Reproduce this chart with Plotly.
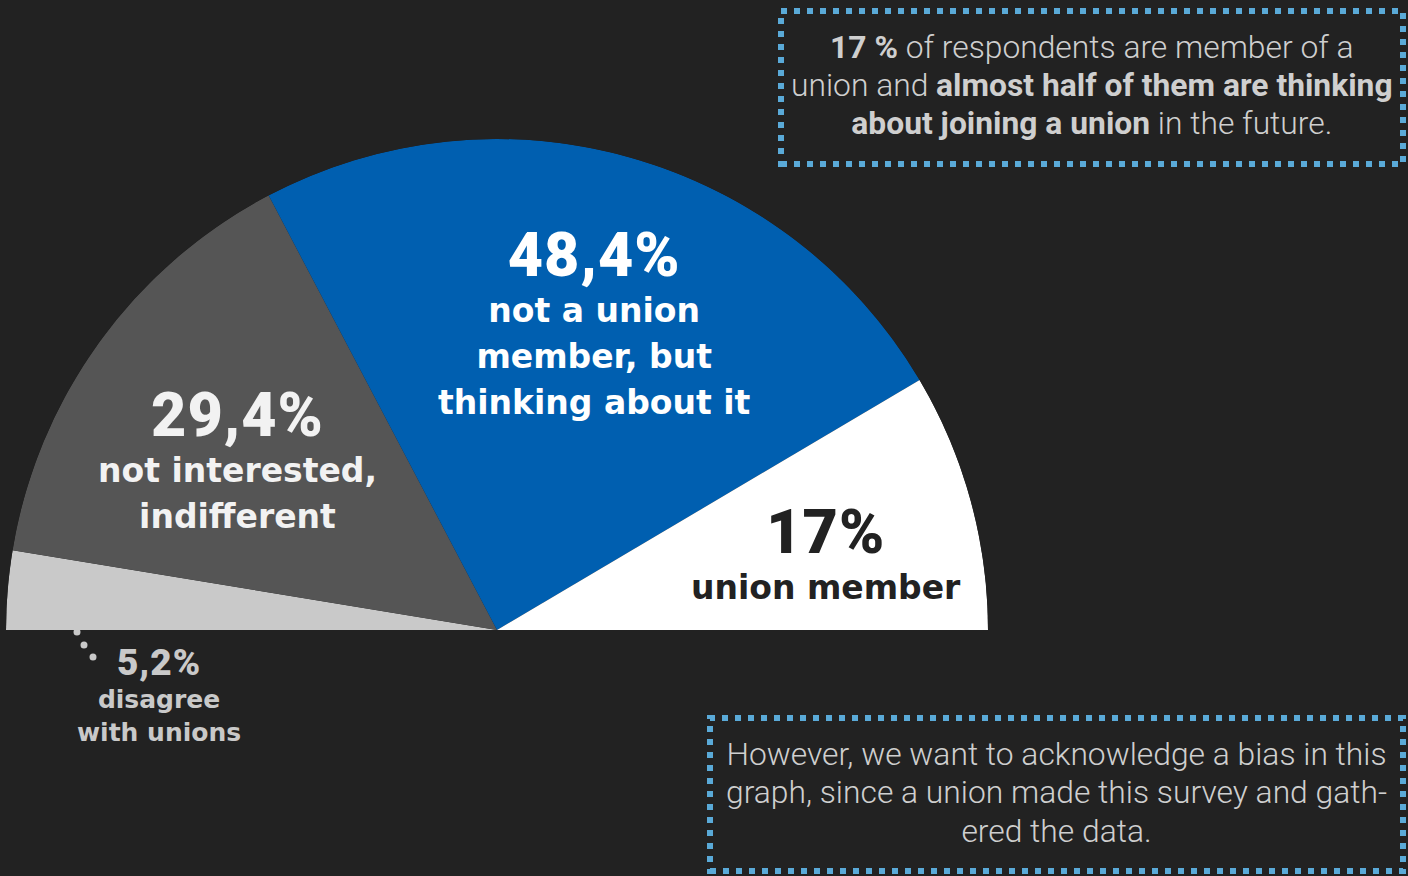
import plotly.graph_objects as go

W, H = 1408, 876

# Survey shares (percent), ordered left to right around the half circle
categories = ["disagree with unions", "not interested, indifferent",
              "not a union member, but thinking about it", "union member"]
shares = [5.2, 29.4, 48.4, 17.0]
share_labels = ["5,2%", "29,4%", "48,4%", "17%"]
slice_texts = ["disagree<br>with unions", "not interested,<br>indifferent",
               "not a union<br>member, but<br>thinking about it", "union member"]
slice_colors = ["#c9c9c9", "#555555", "#005fb0", "#ffffff"]

BG = "#222222"
DOT_BLUE = "#5aaad8"

# each percent occupies 1.8 degrees of the 180-degree arc
widths = [s * 1.8 for s in shares]
centers = []
acc = 0.0
for w in widths:
    centers.append(acc + w / 2)
    acc += w

fig = go.Figure()
fig.add_trace(go.Barpolar(
    r=[1] * len(shares),
    theta=centers,
    width=widths,
    marker=dict(color=slice_colors, line=dict(width=0)),
    text=categories,
    hoverinfo="text",
    showlegend=False,
))


def px(x, y):
    return x / W, 1 - y / H


def slice_label(i, x, y_bottom, num_size, body_size, pitch, color):
    """Big percentage on top, description below, as one text block.
    `pitch` sets the line spacing (plotly uses 1.3 x the base font size)."""
    num = ('<span style="font-size:%dpx;font-family:Roboto;font-weight:900;'
           'letter-spacing:1px">%s</span>' % (num_size, share_labels[i]))
    lines = ['<span style="font-size:%dpx">%s</span>' % (body_size, ln)
             for ln in slice_texts[i].split("<br>")]
    ax, ay = px(x, y_bottom)
    fig.add_annotation(x=ax, y=ay, xref="paper", yref="paper",
                       text="<br>".join([num] + lines),
                       showarrow=False, xanchor="center", yanchor="bottom",
                       align="center",
                       font=dict(family="DejaVu Sans", size=pitch / 1.3, color=color,
                                 weight="bold"))


slice_label(2, 594, 424, 61, 33, 46, "#ffffff")
slice_label(1, 237, 538, 61, 33, 46, "#f2f2f2")
slice_label(3, 826, 609, 61, 33, 46, "#222222")
slice_label(0, 159, 749, 37, 25, 33, "#c9c9c9")

# dotted leader from the thin slice to its label
for (cx, cy, rr) in [(77, 632, 3.5), (84, 645, 3.5), (93, 657, 3.5)]:
    x0, y0 = px(cx - rr, cy - rr)
    x1, y1 = px(cx + rr, cy + rr)
    fig.add_shape(type="circle", xref="paper", yref="paper",
                  x0=x0, x1=x1, y0=y1, y1=y0,
                  fillcolor="#c9c9c9", line=dict(width=0))

# dotted callout boxes
for (bx0, by0, bx1, by1) in [(781, 11, 1403, 164), (710, 718, 1403, 871)]:
    x0, y0 = px(bx0, by0)
    x1, y1 = px(bx1, by1)
    fig.add_shape(type="rect", xref="paper", yref="paper",
                  x0=x0, x1=x1, y0=y1, y1=y0,
                  line=dict(color=DOT_BLUE, width=6, dash="6px,7px"),
                  fillcolor="rgba(0,0,0,0)")

note_top = ("<b>17 %</b> of respondents are member of a<br>"
            "union and <b>almost half of them are thinking</b><br>"
            "<b>about joining a union</b> in the future.")
note_bottom = ("However, we want to acknowledge a bias in this<br>"
               "graph, since a union made this survey and gath-<br>"
               "ered the data.")


def note(x, y, text, line_size, glyph_size):
    """Line pitch follows line_size; the glyphs themselves use glyph_size."""
    lines = text.split("<br>")
    body = "<br>".join('<span style="font-size:%.1fpx">%s</span>' % (glyph_size, ln)
                       for ln in lines)
    ax, ay = px(x, y)
    fig.add_annotation(x=ax, y=ay, xref="paper", yref="paper", text=body,
                       showarrow=False, xanchor="center", yanchor="middle",
                       font=dict(family="Roboto", size=line_size, color="#cfcfcf",
                                 weight=300))


note(1092, 85, note_top, 29.3, 31.8)
note(1056, 792, note_bottom, 29.6, 31.8)

fig.update_layout(
    width=W, height=H,
    margin=dict(l=0, r=0, t=0, b=0),
    paper_bgcolor=BG,
    plot_bgcolor=BG,
    polar=dict(
        domain=dict(x=[6 / W, 988 / W], y=[1 - 630 / H, 1 - 139 / H]),
        sector=[0, 180],
        bgcolor=BG,
        bargap=0,
        hole=0,
        radialaxis=dict(visible=False, range=[0, 1], showgrid=False),
        angularaxis=dict(visible=False, rotation=180, direction="clockwise",
                         showgrid=False),
    ),
)

fig.write_html("out.html")
